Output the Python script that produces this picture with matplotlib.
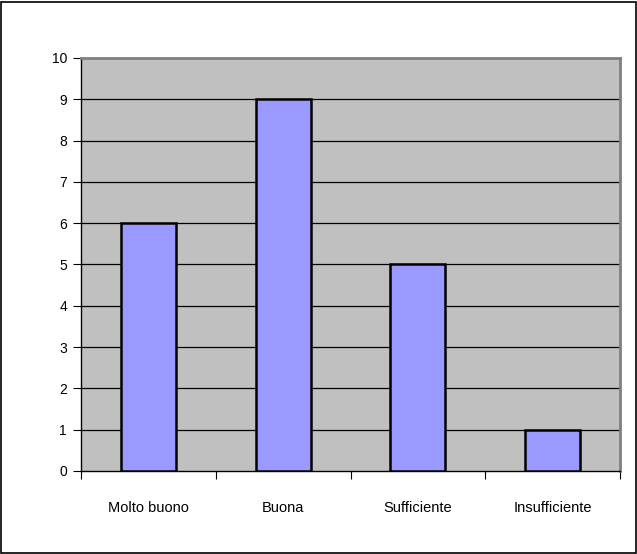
import matplotlib
matplotlib.use("Agg")
import matplotlib.pyplot as plt
from matplotlib.patches import Rectangle
from matplotlib.ticker import FixedLocator

categories = ["Molto buono", "Buona", "Sufficiente", "Insufficiente"]
values = [6, 9, 5, 1]
yticks = list(range(0, 11))

plt.rcParams['font.family'] = ['Liberation Sans', 'DejaVu Sans']

fig = plt.figure(figsize=(6.37, 5.54), dpi=100)
fig.patch.set_facecolor('white')
fig.patches.append(Rectangle((0.002, 0.002), 0.996, 0.995, transform=fig.transFigure,
                             fill=False, edgecolor='black', linewidth=1.2))

ax = fig.add_axes([81/637, 83/554, 539/637, 413/554])
ax.set_facecolor('#C0C0C0')
x = list(range(len(categories)))
ax.bar(x, values, width=0.41, color='#9999FF', edgecolor='black', linewidth=1.8, zorder=3)
ax.set_xlim(-0.5, len(categories) - 0.5)
ax.set_ylim(0, 10)
ax.set_yticks(yticks)
for y in yticks[1:-1]:
    ax.axhline(y, color='black', linewidth=0.9, zorder=1)

ax.xaxis.set_major_locator(FixedLocator([i - 0.5 for i in range(len(categories) + 1)]))
ax.xaxis.set_minor_locator(FixedLocator(x))
ax.set_xticklabels([''] * (len(categories) + 1))
ax.set_xticklabels(categories, minor=True)
ax.tick_params(axis='x', which='minor', length=0, pad=21.5, labelsize=10.5)
ax.tick_params(axis='x', which='major', length=6, width=0.8, direction='out')
ax.tick_params(axis='y', length=6, width=0.8, direction='out', labelsize=10, pad=4)

for s in ['left', 'bottom']:
    ax.spines[s].set_color('black')
    ax.spines[s].set_linewidth(1.0)
for s in ['top', 'right']:
    ax.spines[s].set_color('#808080')
    ax.spines[s].set_linewidth(2.0)

fig.savefig("out.png", dpi=100)
